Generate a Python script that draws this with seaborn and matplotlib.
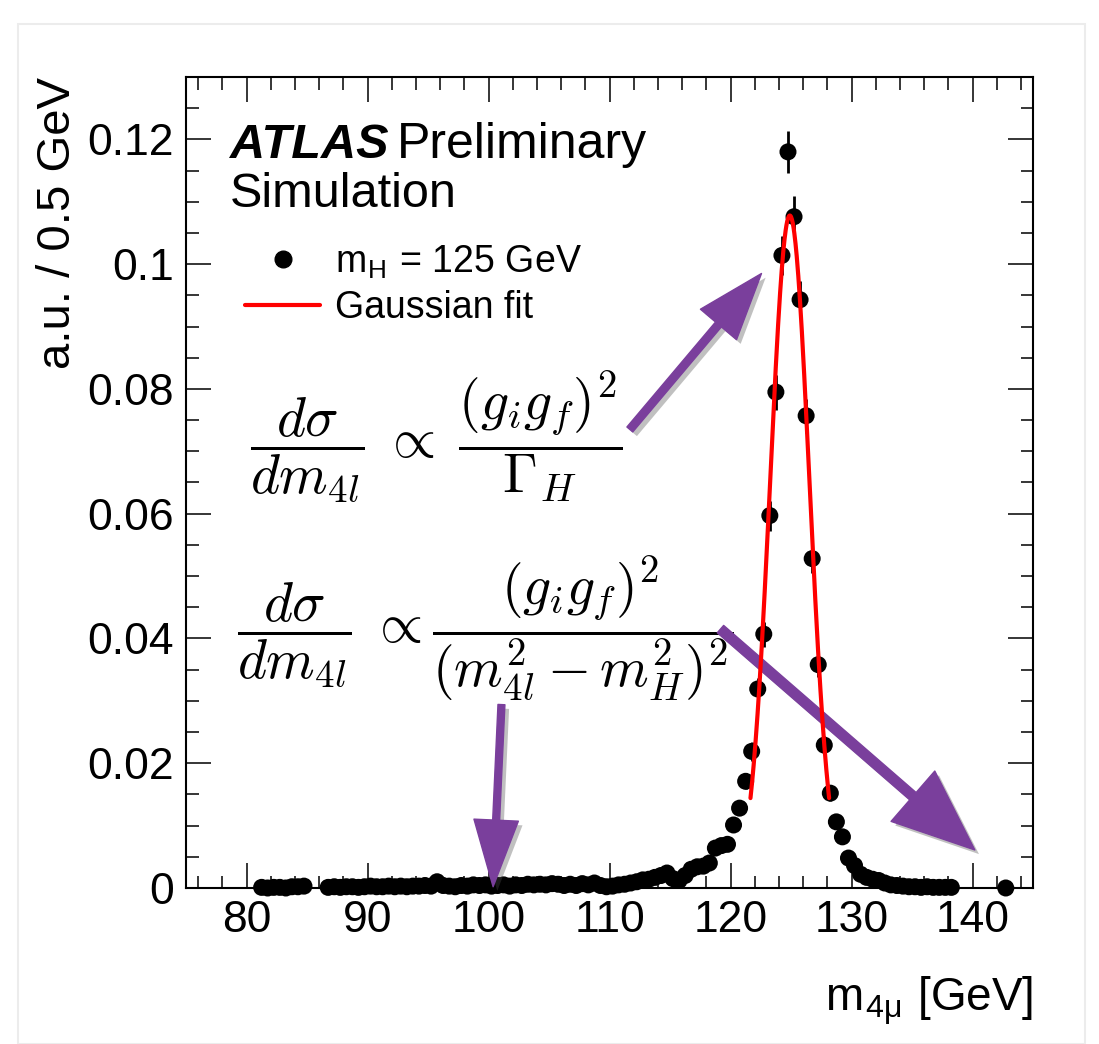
import numpy as np
import pandas as pd
import matplotlib
matplotlib.use("Agg")
import matplotlib.pyplot as plt
import matplotlib.patheffects as pe
from matplotlib.lines import Line2D
from matplotlib.patches import Rectangle
from matplotlib.ticker import FixedLocator, MultipleLocator
import seaborn as sns

# ---------------- data ----------------
mass = [81.25, 81.75, 82.25, 82.75, 83.25, 83.75, 84.25, 84.75,
        86.75, 87.25, 87.75, 88.25, 88.75, 89.25, 89.75, 90.25, 90.75,
        91.25, 91.75, 92.25, 92.75, 93.25, 93.75, 94.25, 94.75, 95.25,
        95.75, 96.25, 96.75, 97.25, 97.75, 98.25, 98.75, 99.25, 99.75,
        100.25, 100.75, 101.25, 101.75, 102.25, 102.75, 103.25, 103.75,
        104.25, 104.75, 105.25, 105.75, 106.25, 106.75, 107.25, 107.75,
        108.25, 108.75, 109.25, 109.75, 110.25, 110.75, 111.25, 111.75,
        112.25, 112.75, 113.25, 113.75, 114.25, 114.75, 115.25, 115.75,
        116.25, 116.75, 117.25, 117.75, 118.25, 118.75, 119.25, 119.75,
        120.25, 120.75, 121.25, 121.75, 122.25, 122.75, 123.25, 123.75,
        124.25, 124.75, 125.25, 125.75, 126.25, 126.75, 127.25, 127.75,
        128.25, 128.75, 129.25, 129.75, 130.25, 130.75, 131.25, 131.75,
        132.25, 132.75, 133.25, 133.75, 134.25, 134.75, 135.25, 135.75,
        136.25, 136.75, 137.25, 137.75, 138.25, 142.75]

frac = [0.0001, 0.0000, 0.0001, 0.0001, 0.0000, 0.0002, 0.0002, 0.0003,
        0.0001, 0.0002, 0.0001, 0.0002, 0.0002, 0.0001, 0.0002, 0.0003, 0.0002,
        0.0002, 0.0003, 0.0002, 0.0003, 0.0002, 0.0003, 0.0003, 0.0004, 0.0003,
        0.0010, 0.0004, 0.0003, 0.0002, 0.0004, 0.0003, 0.0005, 0.0004, 0.0005,
        0.0003, 0.0004, 0.0005, 0.0003, 0.0005, 0.0004, 0.0006, 0.0005,
        0.0006, 0.0005, 0.0007, 0.0006, 0.0004, 0.0006, 0.0004, 0.0007,
        0.0005, 0.0008, 0.0004, 0.0002, 0.0003, 0.0005, 0.0006, 0.0008,
        0.0010, 0.0013, 0.0014, 0.0017, 0.0020, 0.0024, 0.0015, 0.0012,
        0.0020, 0.0030, 0.0034, 0.0035, 0.0040, 0.0064, 0.0068, 0.0070,
        0.0101, 0.0128, 0.0171, 0.0219, 0.0319, 0.0407, 0.0597, 0.0795,
        0.1014, 0.1180, 0.1076, 0.0943, 0.0757, 0.0528, 0.0358, 0.0229,
        0.0152, 0.0106, 0.0082, 0.0048, 0.0036, 0.0022, 0.0017, 0.0014,
        0.0012, 0.0008, 0.0005, 0.0004, 0.0003, 0.0002, 0.0002, 0.0001,
        0.0002, 0.0001, 0.0001, 0.0001, 0.0001, 0.0000]

err = [0.0001, 0.0001, 0.0001, 0.0001, 0.0001, 0.0001, 0.0001, 0.0002,
       0.0001, 0.0001, 0.0001, 0.0001, 0.0001, 0.0001, 0.0001, 0.0002, 0.0001,
       0.0001, 0.0002, 0.0001, 0.0002, 0.0001, 0.0002, 0.0002, 0.0002, 0.0002,
       0.0003, 0.0002, 0.0002, 0.0001, 0.0002, 0.0002, 0.0002, 0.0002, 0.0002,
       0.0002, 0.0002, 0.0002, 0.0002, 0.0002, 0.0002, 0.0002, 0.0002,
       0.0002, 0.0002, 0.0003, 0.0002, 0.0002, 0.0002, 0.0002, 0.0003,
       0.0002, 0.0003, 0.0002, 0.0001, 0.0002, 0.0002, 0.0002, 0.0003,
       0.0003, 0.0004, 0.0004, 0.0004, 0.0004, 0.0005, 0.0004, 0.0003,
       0.0004, 0.0005, 0.0006, 0.0006, 0.0006, 0.0008, 0.0008, 0.0008,
       0.0010, 0.0011, 0.0013, 0.0015, 0.0018, 0.0020, 0.0024, 0.0028,
       0.0031, 0.0034, 0.0033, 0.0030, 0.0027, 0.0023, 0.0019, 0.0015,
       0.0012, 0.0010, 0.0009, 0.0007, 0.0006, 0.0005, 0.0004, 0.0004,
       0.0003, 0.0003, 0.0002, 0.0002, 0.0002, 0.0001, 0.0001, 0.0001,
       0.0001, 0.0001, 0.0001, 0.0001, 0.0001, 0.0001]

# Gaussian fit parameters
fit_mean = 124.9
fit_sigma = 1.62
fit_amp = 0.1078
fit_lo = 121.65
fit_hi = 128.15

xticks = [80, 90, 100, 110, 120, 130, 140]
yticks = [0, 0.02, 0.04, 0.06, 0.08, 0.10, 0.12]
yticklabels = ["0", "0.02", "0.04", "0.06", "0.08", "0.1", "0.12"]

df = pd.DataFrame({"mass": mass, "frac": frac, "err": err})
fit_x = np.linspace(fit_lo, fit_hi, 200)
fit_df = pd.DataFrame({"mass": fit_x,
                       "frac": fit_amp * np.exp(-0.5 * ((fit_x - fit_mean) / fit_sigma) ** 2)})

# ---------------- style ----------------
sns.set_theme(style="ticks")
plt.rcParams["font.family"] = ["Liberation Sans", "DejaVu Sans"]
plt.rcParams["mathtext.fontset"] = "cm"
plt.rcParams["axes.linewidth"] = 1.5
plt.rcParams["text.color"] = "black"
plt.rcParams["axes.labelcolor"] = "black"
plt.rcParams["xtick.color"] = "black"
plt.rcParams["ytick.color"] = "black"

fig = plt.figure(figsize=(10.99, 10.44), dpi=100)
fig.patch.set_facecolor("white")
ax = fig.add_axes([0.16925, 0.14943, 0.77070, 0.77682])
ax.set_facecolor("white")

# faint outer frame of the original slide
fig.patches.append(Rectangle((18 / 1099, 0.0), (1085 - 18) / 1099, (1044 - 24) / 1044,
                             transform=fig.transFigure, fill=False,
                             edgecolor="#ececec", lw=1.5, zorder=0))

# error bars, points, fit
ax.errorbar(df["mass"], df["frac"], yerr=df["err"], fmt="none",
            ecolor="black", elinewidth=2.0, capsize=0, zorder=2, clip_on=False)
sns.scatterplot(data=df, x="mass", y="frac", color="black", s=150,
                edgecolor="none", linewidth=0, ax=ax, zorder=3, clip_on=False,
                legend=False)
sns.lineplot(data=fit_df, x="mass", y="frac", color="red", lw=3.0, ax=ax,
             zorder=4, legend=False)

ax.set_xlim(75, 145)
ax.set_ylim(0, 0.13)

ax.xaxis.set_major_locator(FixedLocator(xticks))
ax.xaxis.set_minor_locator(MultipleLocator(2))
ax.set_xticklabels([str(t) for t in xticks])
ax.yaxis.set_major_locator(FixedLocator(yticks))
ax.yaxis.set_minor_locator(MultipleLocator(0.005))
ax.set_yticklabels(yticklabels)

ax.tick_params(which="both", direction="in", top=True, right=True,
               colors="black", width=1.1)
ax.tick_params(which="major", length=18, labelsize=32, pad=9)
ax.tick_params(which="minor", length=9)
for s in ax.spines.values():
    s.set_visible(True)
    s.set_color("black")
    s.set_linewidth(1.5)

ax.set_xlabel(r"m$_{\mathregular{4\mu}}$ [GeV]", fontsize=33, loc="right",
              labelpad=24, color="black")
ax.set_ylabel("a.u. / 0.5 GeV", fontsize=34, loc="top", labelpad=5,
              color="black")

# ATLAS label
ax.text(0.052, 0.900, "ATLAS", transform=ax.transAxes, fontsize=35,
        fontweight="bold", fontstyle="italic", ha="left", va="baseline")
ax.text(0.249, 0.900, "Preliminary", transform=ax.transAxes, fontsize=36,
        ha="left", va="baseline")
ax.text(0.052, 0.8397, "Simulation", transform=ax.transAxes, fontsize=35,
        ha="left", va="baseline")

# legend
handles = [Line2D([0], [0], marker="o", color="black", ls="none", markersize=12),
           Line2D([0], [0], color="red", lw=3)]
labels = [r"m$_{\mathregular{H}}$ = 125 GeV", "Gaussian fit"]
ax.legend(handles, labels, loc="upper left", bbox_to_anchor=(0.0697, 0.795),
          frameon=False, fontsize=27, borderpad=0, borderaxespad=0,
          handlelength=2.0, handletextpad=0.4, labelspacing=0.26)

# formulas
ax.text(80.3, 0.0722, r"$\dfrac{d\sigma}{dm_{4l}}\;\propto\;\dfrac{(g_ig_f)^2}{\Gamma_H}$",
        fontsize=40, ha="left", va="center", color="black")
ax.text(79.2, 0.0415,
        r"$\dfrac{d\sigma}{dm_{4l}}\;\propto\dfrac{(g_ig_f)^2}{(m_{4l}^2-m_H^2)^2}$",
        fontsize=40, ha="left", va="center", color="black")

# purple arrows with shadow
purple = "#7A3F9C"
shadow = [pe.SimplePatchShadow(offset=(3, -3), shadow_rgbFace=(0.3, 0.3, 0.3), alpha=0.35),
          pe.Normal()]


def arrow(tail, tip, hl, hw, tw):
    ax.annotate("", xy=tip, xytext=tail, xycoords="data", textcoords="data",
                annotation_clip=False,
                arrowprops=dict(arrowstyle=f"simple,head_length={hl},head_width={hw},tail_width={tw}",
                                mutation_scale=1, color=purple, shrinkA=0, shrinkB=0,
                                path_effects=shadow, zorder=6))


arrow((111.68, 0.0735), (122.56, 0.0985), 48, 34, 5.5)
arrow((119.17, 0.0415), (140.19, 0.0061), 59, 48, 7.0)
arrow((101.07, 0.0294), (100.38, 0.0002), 48, 32, 5.0)

fig.savefig("out.png", dpi=100, facecolor="white")
